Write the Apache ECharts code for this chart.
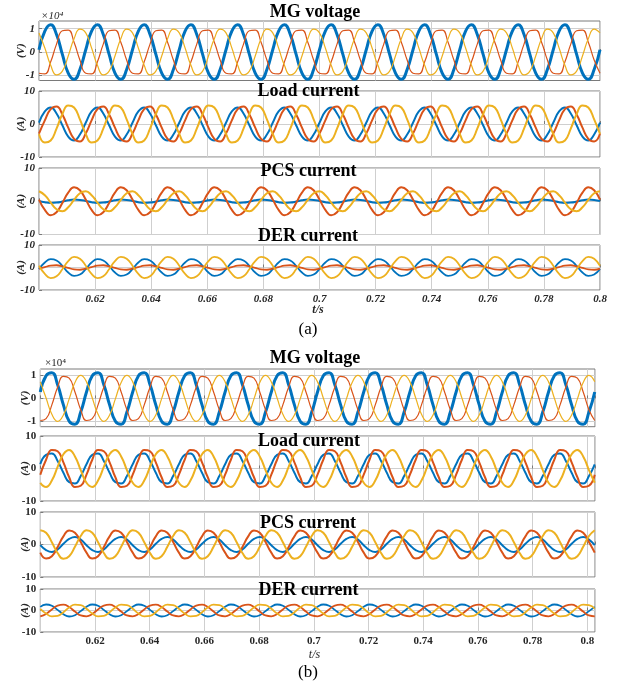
<!DOCTYPE html>
<html><head><meta charset="utf-8">
<script src="https://cdn.jsdelivr.net/npm/echarts@6/dist/echarts.min.js"></script>
<style>html,body{margin:0;padding:0;background:#fff}#c{width:617px;height:690px}</style>
</head><body><div id="c"></div><script>
// ---------- sampling grids (s) ----------
const T0 = 0.6;
const STEP_A = 1 / 480;      // figure (a): 60 Hz, 8 samples per cycle
const STEP_B = 0.0021115;    // figure (b): ~59.2 Hz, 8 samples per cycle
const N = 97;
const tA = [], tB = [];
for (let k = 0; k < N; k++) { tA.push(+(T0 + k * STEP_A).toFixed(6)); tB.push(+(T0 + k * STEP_B).toFixed(6)); }

// ---------- tick labels ----------
const xTickInterval = 0.02;
const mgTicks = [-1, 0, 1];
const curTicks = [-10, 0, 10];
const titles = ['MG voltage', 'Load current', 'PCS current', 'DER current'];

// ---------- (a) MG voltage (x1e4 V) ----------
const aMG_A = [
0.10,0.90,1.17,0.75,-0.10,-0.90,-1.17,-0.75,
0.10,0.90,1.17,0.75,-0.10,-0.90,-1.17,-0.75,
0.10,0.90,1.17,0.75,-0.10,-0.90,-1.17,-0.75,
0.10,0.90,1.17,0.75,-0.10,-0.90,-1.17,-0.75,
0.10,0.90,1.17,0.75,-0.10,-0.90,-1.17,-0.75,
0.10,0.90,1.17,0.75,-0.10,-0.90,-1.17,-0.75,
0.10,0.90,1.17,0.75,-0.10,-0.90,-1.17,-0.75,
0.10,0.90,1.17,0.75,-0.10,-0.90,-1.17,-0.75,
0.10,0.90,1.17,0.75,-0.10,-0.90,-1.17,-0.75,
0.10,0.90,1.17,0.75,-0.10,-0.90,-1.17,-0.75,
0.10,0.90,1.17,0.75,-0.10,-0.90,-1.17,-0.75,
0.10,0.90,1.17,0.75,-0.10,-0.90,-1.17,-0.75,
0.10];
const aMG_B = [
-0.91,-0.94,-0.42,0.34,0.91,0.94,0.42,-0.34,
-0.91,-0.94,-0.42,0.34,0.91,0.94,0.42,-0.34,
-0.91,-0.94,-0.42,0.34,0.91,0.94,0.42,-0.34,
-0.91,-0.94,-0.42,0.34,0.91,0.94,0.42,-0.34,
-0.91,-0.94,-0.42,0.34,0.91,0.94,0.42,-0.34,
-0.91,-0.94,-0.42,0.34,0.91,0.94,0.42,-0.34,
-0.91,-0.94,-0.42,0.34,0.91,0.94,0.42,-0.34,
-0.91,-0.94,-0.42,0.34,0.91,0.94,0.42,-0.34,
-0.91,-0.94,-0.42,0.34,0.91,0.94,0.42,-0.34,
-0.91,-0.94,-0.42,0.34,0.91,0.94,0.42,-0.34,
-0.91,-0.94,-0.42,0.34,0.91,0.94,0.42,-0.34,
-0.91,-0.94,-0.42,0.34,0.91,0.94,0.42,-0.34,
-0.91];
const aMG_C = [
0.82,0.17,-0.57,-0.98,-0.82,-0.17,0.57,0.98,
0.82,0.17,-0.57,-0.98,-0.82,-0.17,0.57,0.98,
0.82,0.17,-0.57,-0.98,-0.82,-0.17,0.57,0.98,
0.82,0.17,-0.57,-0.98,-0.82,-0.17,0.57,0.98,
0.82,0.17,-0.57,-0.98,-0.82,-0.17,0.57,0.98,
0.82,0.17,-0.57,-0.98,-0.82,-0.17,0.57,0.98,
0.82,0.17,-0.57,-0.98,-0.82,-0.17,0.57,0.98,
0.82,0.17,-0.57,-0.98,-0.82,-0.17,0.57,0.98,
0.82,0.17,-0.57,-0.98,-0.82,-0.17,0.57,0.98,
0.82,0.17,-0.57,-0.98,-0.82,-0.17,0.57,0.98,
0.82,0.17,-0.57,-0.98,-0.82,-0.17,0.57,0.98,
0.82,0.17,-0.57,-0.98,-0.82,-0.17,0.57,0.98,
0.82];

// ---------- (a) Load current (A) ----------
const aLoad_A = [
0.4,3.8,5.0,3.2,-0.4,-3.8,-5.0,-3.2,
0.4,3.8,5.0,3.2,-0.4,-3.8,-5.0,-3.2,
0.4,3.8,5.0,3.2,-0.4,-3.8,-5.0,-3.2,
0.4,3.8,5.0,3.2,-0.4,-3.8,-5.0,-3.2,
0.4,3.8,5.0,3.2,-0.4,-3.8,-5.0,-3.2,
0.4,3.8,5.0,3.2,-0.4,-3.8,-5.0,-3.2,
0.4,3.8,5.0,3.2,-0.4,-3.8,-5.0,-3.2,
0.4,3.8,5.0,3.2,-0.4,-3.8,-5.0,-3.2,
0.4,3.8,5.0,3.2,-0.4,-3.8,-5.0,-3.2,
0.4,3.8,5.0,3.2,-0.4,-3.8,-5.0,-3.2,
0.4,3.8,5.0,3.2,-0.4,-3.8,-5.0,-3.2,
0.4,3.8,5.0,3.2,-0.4,-3.8,-5.0,-3.2,
0.4];
const aLoad_B = [
-2.9,1.1,4.5,5.3,2.9,-1.1,-4.5,-5.3,
-2.9,1.1,4.5,5.3,2.9,-1.1,-4.5,-5.3,
-2.9,1.1,4.5,5.3,2.9,-1.1,-4.5,-5.3,
-2.9,1.1,4.5,5.3,2.9,-1.1,-4.5,-5.3,
-2.9,1.1,4.5,5.3,2.9,-1.1,-4.5,-5.3,
-2.9,1.1,4.5,5.3,2.9,-1.1,-4.5,-5.3,
-2.9,1.1,4.5,5.3,2.9,-1.1,-4.5,-5.3,
-2.9,1.1,4.5,5.3,2.9,-1.1,-4.5,-5.3,
-2.9,1.1,4.5,5.3,2.9,-1.1,-4.5,-5.3,
-2.9,1.1,4.5,5.3,2.9,-1.1,-4.5,-5.3,
-2.9,1.1,4.5,5.3,2.9,-1.1,-4.5,-5.3,
-2.9,1.1,4.5,5.3,2.9,-1.1,-4.5,-5.3,
-2.9];
const aLoad_C = [
-3.0,-5.6,-5.0,-1.4,3.0,5.6,5.0,1.4,
-3.0,-5.6,-5.0,-1.4,3.0,5.6,5.0,1.4,
-3.0,-5.6,-5.0,-1.4,3.0,5.6,5.0,1.4,
-3.0,-5.6,-5.0,-1.4,3.0,5.6,5.0,1.4,
-3.0,-5.6,-5.0,-1.4,3.0,5.6,5.0,1.4,
-3.0,-5.6,-5.0,-1.4,3.0,5.6,5.0,1.4,
-3.0,-5.6,-5.0,-1.4,3.0,5.6,5.0,1.4,
-3.0,-5.6,-5.0,-1.4,3.0,5.6,5.0,1.4,
-3.0,-5.6,-5.0,-1.4,3.0,5.6,5.0,1.4,
-3.0,-5.6,-5.0,-1.4,3.0,5.6,5.0,1.4,
-3.0,-5.6,-5.0,-1.4,3.0,5.6,5.0,1.4,
-3.0,-5.6,-5.0,-1.4,3.0,5.6,5.0,1.4,
-3.0];

// ---------- (a) PCS current (A) ----------
const aPCS_A = [
0.1,-0.3,-0.5,-0.4,-0.1,0.3,0.5,0.4,
0.1,-0.3,-0.5,-0.4,-0.1,0.3,0.5,0.4,
0.1,-0.3,-0.5,-0.4,-0.1,0.3,0.5,0.4,
0.1,-0.3,-0.5,-0.4,-0.1,0.3,0.5,0.4,
0.1,-0.3,-0.5,-0.4,-0.1,0.3,0.5,0.4,
0.1,-0.3,-0.5,-0.4,-0.1,0.3,0.5,0.4,
0.1,-0.3,-0.5,-0.4,-0.1,0.3,0.5,0.4,
0.1,-0.3,-0.5,-0.4,-0.1,0.3,0.5,0.4,
0.1,-0.3,-0.5,-0.4,-0.1,0.3,0.5,0.4,
0.1,-0.3,-0.5,-0.4,-0.1,0.3,0.5,0.4,
0.1,-0.3,-0.5,-0.4,-0.1,0.3,0.5,0.4,
0.1,-0.3,-0.5,-0.4,-0.1,0.3,0.5,0.4,
0.1];
const aPCS_B = [
0.5,-2.6,-4.2,-3.3,-0.5,2.6,4.2,3.3,
0.5,-2.6,-4.2,-3.3,-0.5,2.6,4.2,3.3,
0.5,-2.6,-4.2,-3.3,-0.5,2.6,4.2,3.3,
0.5,-2.6,-4.2,-3.3,-0.5,2.6,4.2,3.3,
0.5,-2.6,-4.2,-3.3,-0.5,2.6,4.2,3.3,
0.5,-2.6,-4.2,-3.3,-0.5,2.6,4.2,3.3,
0.5,-2.6,-4.2,-3.3,-0.5,2.6,4.2,3.3,
0.5,-2.6,-4.2,-3.3,-0.5,2.6,4.2,3.3,
0.5,-2.6,-4.2,-3.3,-0.5,2.6,4.2,3.3,
0.5,-2.6,-4.2,-3.3,-0.5,2.6,4.2,3.3,
0.5,-2.6,-4.2,-3.3,-0.5,2.6,4.2,3.3,
0.5,-2.6,-4.2,-3.3,-0.5,2.6,4.2,3.3,
0.5];
const aPCS_C = [
3.0,1.8,-0.4,-2.4,-3.0,-1.8,0.4,2.4,
3.0,1.8,-0.4,-2.4,-3.0,-1.8,0.4,2.4,
3.0,1.8,-0.4,-2.4,-3.0,-1.8,0.4,2.4,
3.0,1.8,-0.4,-2.4,-3.0,-1.8,0.4,2.4,
3.0,1.8,-0.4,-2.4,-3.0,-1.8,0.4,2.4,
3.0,1.8,-0.4,-2.4,-3.0,-1.8,0.4,2.4,
3.0,1.8,-0.4,-2.4,-3.0,-1.8,0.4,2.4,
3.0,1.8,-0.4,-2.4,-3.0,-1.8,0.4,2.4,
3.0,1.8,-0.4,-2.4,-3.0,-1.8,0.4,2.4,
3.0,1.8,-0.4,-2.4,-3.0,-1.8,0.4,2.4,
3.0,1.8,-0.4,-2.4,-3.0,-1.8,0.4,2.4,
3.0,1.8,-0.4,-2.4,-3.0,-1.8,0.4,2.4,
3.0];

// ---------- (a) DER current (A) ----------
const aDER_A = [
-0.7,2.2,3.7,3.1,0.7,-2.2,-3.7,-3.1,
-0.7,2.2,3.7,3.1,0.7,-2.2,-3.7,-3.1,
-0.7,2.2,3.7,3.1,0.7,-2.2,-3.7,-3.1,
-0.7,2.2,3.7,3.1,0.7,-2.2,-3.7,-3.1,
-0.7,2.2,3.7,3.1,0.7,-2.2,-3.7,-3.1,
-0.7,2.2,3.7,3.1,0.7,-2.2,-3.7,-3.1,
-0.7,2.2,3.7,3.1,0.7,-2.2,-3.7,-3.1,
-0.7,2.2,3.7,3.1,0.7,-2.2,-3.7,-3.1,
-0.7,2.2,3.7,3.1,0.7,-2.2,-3.7,-3.1,
-0.7,2.2,3.7,3.1,0.7,-2.2,-3.7,-3.1,
-0.7,2.2,3.7,3.1,0.7,-2.2,-3.7,-3.1,
-0.7,2.2,3.7,3.1,0.7,-2.2,-3.7,-3.1,
-0.7];
const aDER_B = [
-0.5,0.2,0.8,1.0,0.5,-0.2,-0.8,-1.0,
-0.5,0.2,0.8,1.0,0.5,-0.2,-0.8,-1.0,
-0.5,0.2,0.8,1.0,0.5,-0.2,-0.8,-1.0,
-0.5,0.2,0.8,1.0,0.5,-0.2,-0.8,-1.0,
-0.5,0.2,0.8,1.0,0.5,-0.2,-0.8,-1.0,
-0.5,0.2,0.8,1.0,0.5,-0.2,-0.8,-1.0,
-0.5,0.2,0.8,1.0,0.5,-0.2,-0.8,-1.0,
-0.5,0.2,0.8,1.0,0.5,-0.2,-0.8,-1.0,
-0.5,0.2,0.8,1.0,0.5,-0.2,-0.8,-1.0,
-0.5,0.2,0.8,1.0,0.5,-0.2,-0.8,-1.0,
-0.5,0.2,0.8,1.0,0.5,-0.2,-0.8,-1.0,
-0.5,0.2,0.8,1.0,0.5,-0.2,-0.8,-1.0,
-0.5];
const aDER_C = [
0.8,-2.8,-4.7,-3.9,-0.8,2.8,4.7,3.9,
0.8,-2.8,-4.7,-3.9,-0.8,2.8,4.7,3.9,
0.8,-2.8,-4.7,-3.9,-0.8,2.8,4.7,3.9,
0.8,-2.8,-4.7,-3.9,-0.8,2.8,4.7,3.9,
0.8,-2.8,-4.7,-3.9,-0.8,2.8,4.7,3.9,
0.8,-2.8,-4.7,-3.9,-0.8,2.8,4.7,3.9,
0.8,-2.8,-4.7,-3.9,-0.8,2.8,4.7,3.9,
0.8,-2.8,-4.7,-3.9,-0.8,2.8,4.7,3.9,
0.8,-2.8,-4.7,-3.9,-0.8,2.8,4.7,3.9,
0.8,-2.8,-4.7,-3.9,-0.8,2.8,4.7,3.9,
0.8,-2.8,-4.7,-3.9,-0.8,2.8,4.7,3.9,
0.8,-2.8,-4.7,-3.9,-0.8,2.8,4.7,3.9,
0.8];

// ---------- (b) MG voltage (x1e4 V) ----------
const bMG_A = [
0.28,0.99,1.12,0.59,-0.28,-0.99,-1.12,-0.59,
0.28,0.99,1.12,0.59,-0.28,-0.99,-1.12,-0.59,
0.28,0.99,1.12,0.59,-0.28,-0.99,-1.12,-0.59,
0.28,0.99,1.12,0.59,-0.28,-0.99,-1.12,-0.59,
0.28,0.99,1.12,0.59,-0.28,-0.99,-1.12,-0.59,
0.28,0.99,1.12,0.59,-0.28,-0.99,-1.12,-0.59,
0.28,0.99,1.12,0.59,-0.28,-0.99,-1.12,-0.59,
0.28,0.99,1.12,0.59,-0.28,-0.99,-1.12,-0.59,
0.28,0.99,1.12,0.59,-0.28,-0.99,-1.12,-0.59,
0.28,0.99,1.12,0.59,-0.28,-0.99,-1.12,-0.59,
0.28,0.99,1.12,0.59,-0.28,-0.99,-1.12,-0.59,
0.28,0.99,1.12,0.59,-0.28,-0.99,-1.12,-0.59,
0.28];
const bMG_B = [
-0.96,-0.88,-0.28,0.49,0.96,0.88,0.28,-0.49,
-0.96,-0.88,-0.28,0.49,0.96,0.88,0.28,-0.49,
-0.96,-0.88,-0.28,0.49,0.96,0.88,0.28,-0.49,
-0.96,-0.88,-0.28,0.49,0.96,0.88,0.28,-0.49,
-0.96,-0.88,-0.28,0.49,0.96,0.88,0.28,-0.49,
-0.96,-0.88,-0.28,0.49,0.96,0.88,0.28,-0.49,
-0.96,-0.88,-0.28,0.49,0.96,0.88,0.28,-0.49,
-0.96,-0.88,-0.28,0.49,0.96,0.88,0.28,-0.49,
-0.96,-0.88,-0.28,0.49,0.96,0.88,0.28,-0.49,
-0.96,-0.88,-0.28,0.49,0.96,0.88,0.28,-0.49,
-0.96,-0.88,-0.28,0.49,0.96,0.88,0.28,-0.49,
-0.96,-0.88,-0.28,0.49,0.96,0.88,0.28,-0.49,
-0.96];
const bMG_C = [
0.72,0.02,-0.69,-1.0,-0.72,-0.02,0.69,1.0,
0.72,0.02,-0.69,-1.0,-0.72,-0.02,0.69,1.0,
0.72,0.02,-0.69,-1.0,-0.72,-0.02,0.69,1.0,
0.72,0.02,-0.69,-1.0,-0.72,-0.02,0.69,1.0,
0.72,0.02,-0.69,-1.0,-0.72,-0.02,0.69,1.0,
0.72,0.02,-0.69,-1.0,-0.72,-0.02,0.69,1.0,
0.72,0.02,-0.69,-1.0,-0.72,-0.02,0.69,1.0,
0.72,0.02,-0.69,-1.0,-0.72,-0.02,0.69,1.0,
0.72,0.02,-0.69,-1.0,-0.72,-0.02,0.69,1.0,
0.72,0.02,-0.69,-1.0,-0.72,-0.02,0.69,1.0,
0.72,0.02,-0.69,-1.0,-0.72,-0.02,0.69,1.0,
0.72,0.02,-0.69,-1.0,-0.72,-0.02,0.69,1.0,
0.72];

// ---------- (b) Load current (A) ----------
const bLoad_A = [
1.3,4.2,4.6,2.3,-1.3,-4.2,-4.6,-2.3,
1.3,4.2,4.6,2.3,-1.3,-4.2,-4.6,-2.3,
1.3,4.2,4.6,2.3,-1.3,-4.2,-4.6,-2.3,
1.3,4.2,4.6,2.3,-1.3,-4.2,-4.6,-2.3,
1.3,4.2,4.6,2.3,-1.3,-4.2,-4.6,-2.3,
1.3,4.2,4.6,2.3,-1.3,-4.2,-4.6,-2.3,
1.3,4.2,4.6,2.3,-1.3,-4.2,-4.6,-2.3,
1.3,4.2,4.6,2.3,-1.3,-4.2,-4.6,-2.3,
1.3,4.2,4.6,2.3,-1.3,-4.2,-4.6,-2.3,
1.3,4.2,4.6,2.3,-1.3,-4.2,-4.6,-2.3,
1.3,4.2,4.6,2.3,-1.3,-4.2,-4.6,-2.3,
1.3,4.2,4.6,2.3,-1.3,-4.2,-4.6,-2.3,
1.3];
const bLoad_B = [
-1.9,2.7,5.7,5.3,1.9,-2.7,-5.7,-5.3,
-1.9,2.7,5.7,5.3,1.9,-2.7,-5.7,-5.3,
-1.9,2.7,5.7,5.3,1.9,-2.7,-5.7,-5.3,
-1.9,2.7,5.7,5.3,1.9,-2.7,-5.7,-5.3,
-1.9,2.7,5.7,5.3,1.9,-2.7,-5.7,-5.3,
-1.9,2.7,5.7,5.3,1.9,-2.7,-5.7,-5.3,
-1.9,2.7,5.7,5.3,1.9,-2.7,-5.7,-5.3,
-1.9,2.7,5.7,5.3,1.9,-2.7,-5.7,-5.3,
-1.9,2.7,5.7,5.3,1.9,-2.7,-5.7,-5.3,
-1.9,2.7,5.7,5.3,1.9,-2.7,-5.7,-5.3,
-1.9,2.7,5.7,5.3,1.9,-2.7,-5.7,-5.3,
-1.9,2.7,5.7,5.3,1.9,-2.7,-5.7,-5.3,
-1.9];
const bLoad_C = [
-4.4,-5.7,-3.7,0.5,4.4,5.7,3.7,-0.5,
-4.4,-5.7,-3.7,0.5,4.4,5.7,3.7,-0.5,
-4.4,-5.7,-3.7,0.5,4.4,5.7,3.7,-0.5,
-4.4,-5.7,-3.7,0.5,4.4,5.7,3.7,-0.5,
-4.4,-5.7,-3.7,0.5,4.4,5.7,3.7,-0.5,
-4.4,-5.7,-3.7,0.5,4.4,5.7,3.7,-0.5,
-4.4,-5.7,-3.7,0.5,4.4,5.7,3.7,-0.5,
-4.4,-5.7,-3.7,0.5,4.4,5.7,3.7,-0.5,
-4.4,-5.7,-3.7,0.5,4.4,5.7,3.7,-0.5,
-4.4,-5.7,-3.7,0.5,4.4,5.7,3.7,-0.5,
-4.4,-5.7,-3.7,0.5,4.4,5.7,3.7,-0.5,
-4.4,-5.7,-3.7,0.5,4.4,5.7,3.7,-0.5,
-4.4];

// ---------- (b) PCS current (A) ----------
const bPCS_A = [
-0.2,-1.7,-2.3,-1.5,0.2,1.7,2.3,1.5,
-0.2,-1.7,-2.3,-1.5,0.2,1.7,2.3,1.5,
-0.2,-1.7,-2.3,-1.5,0.2,1.7,2.3,1.5,
-0.2,-1.7,-2.3,-1.5,0.2,1.7,2.3,1.5,
-0.2,-1.7,-2.3,-1.5,0.2,1.7,2.3,1.5,
-0.2,-1.7,-2.3,-1.5,0.2,1.7,2.3,1.5,
-0.2,-1.7,-2.3,-1.5,0.2,1.7,2.3,1.5,
-0.2,-1.7,-2.3,-1.5,0.2,1.7,2.3,1.5,
-0.2,-1.7,-2.3,-1.5,0.2,1.7,2.3,1.5,
-0.2,-1.7,-2.3,-1.5,0.2,1.7,2.3,1.5,
-0.2,-1.7,-2.3,-1.5,0.2,1.7,2.3,1.5,
-0.2,-1.7,-2.3,-1.5,0.2,1.7,2.3,1.5,
-0.2];
const bPCS_B = [
-2.5,-4.3,-3.6,-0.8,2.5,4.3,3.6,0.8,
-2.5,-4.3,-3.6,-0.8,2.5,4.3,3.6,0.8,
-2.5,-4.3,-3.6,-0.8,2.5,4.3,3.6,0.8,
-2.5,-4.3,-3.6,-0.8,2.5,4.3,3.6,0.8,
-2.5,-4.3,-3.6,-0.8,2.5,4.3,3.6,0.8,
-2.5,-4.3,-3.6,-0.8,2.5,4.3,3.6,0.8,
-2.5,-4.3,-3.6,-0.8,2.5,4.3,3.6,0.8,
-2.5,-4.3,-3.6,-0.8,2.5,4.3,3.6,0.8,
-2.5,-4.3,-3.6,-0.8,2.5,4.3,3.6,0.8,
-2.5,-4.3,-3.6,-0.8,2.5,4.3,3.6,0.8,
-2.5,-4.3,-3.6,-0.8,2.5,4.3,3.6,0.8,
-2.5,-4.3,-3.6,-0.8,2.5,4.3,3.6,0.8,
-2.5];
const bPCS_C = [
4.4,3.6,0.7,-2.6,-4.4,-3.6,-0.7,2.6,
4.4,3.6,0.7,-2.6,-4.4,-3.6,-0.7,2.6,
4.4,3.6,0.7,-2.6,-4.4,-3.6,-0.7,2.6,
4.4,3.6,0.7,-2.6,-4.4,-3.6,-0.7,2.6,
4.4,3.6,0.7,-2.6,-4.4,-3.6,-0.7,2.6,
4.4,3.6,0.7,-2.6,-4.4,-3.6,-0.7,2.6,
4.4,3.6,0.7,-2.6,-4.4,-3.6,-0.7,2.6,
4.4,3.6,0.7,-2.6,-4.4,-3.6,-0.7,2.6,
4.4,3.6,0.7,-2.6,-4.4,-3.6,-0.7,2.6,
4.4,3.6,0.7,-2.6,-4.4,-3.6,-0.7,2.6,
4.4,3.6,0.7,-2.6,-4.4,-3.6,-0.7,2.6,
4.4,3.6,0.7,-2.6,-4.4,-3.6,-0.7,2.6,
4.4];

// ---------- (b) DER current (A) ----------
const bDER_A = [
1.7,2.8,2.2,0.3,-1.7,-2.8,-2.2,-0.3,
1.7,2.8,2.2,0.3,-1.7,-2.8,-2.2,-0.3,
1.7,2.8,2.2,0.3,-1.7,-2.8,-2.2,-0.3,
1.7,2.8,2.2,0.3,-1.7,-2.8,-2.2,-0.3,
1.7,2.8,2.2,0.3,-1.7,-2.8,-2.2,-0.3,
1.7,2.8,2.2,0.3,-1.7,-2.8,-2.2,-0.3,
1.7,2.8,2.2,0.3,-1.7,-2.8,-2.2,-0.3,
1.7,2.8,2.2,0.3,-1.7,-2.8,-2.2,-0.3,
1.7,2.8,2.2,0.3,-1.7,-2.8,-2.2,-0.3,
1.7,2.8,2.2,0.3,-1.7,-2.8,-2.2,-0.3,
1.7,2.8,2.2,0.3,-1.7,-2.8,-2.2,-0.3,
1.7,2.8,2.2,0.3,-1.7,-2.8,-2.2,-0.3,
1.7];
const bDER_B = [
-2.7,-1.6,0.5,2.3,2.7,1.6,-0.5,-2.3,
-2.7,-1.6,0.5,2.3,2.7,1.6,-0.5,-2.3,
-2.7,-1.6,0.5,2.3,2.7,1.6,-0.5,-2.3,
-2.7,-1.6,0.5,2.3,2.7,1.6,-0.5,-2.3,
-2.7,-1.6,0.5,2.3,2.7,1.6,-0.5,-2.3,
-2.7,-1.6,0.5,2.3,2.7,1.6,-0.5,-2.3,
-2.7,-1.6,0.5,2.3,2.7,1.6,-0.5,-2.3,
-2.7,-1.6,0.5,2.3,2.7,1.6,-0.5,-2.3,
-2.7,-1.6,0.5,2.3,2.7,1.6,-0.5,-2.3,
-2.7,-1.6,0.5,2.3,2.7,1.6,-0.5,-2.3,
-2.7,-1.6,0.5,2.3,2.7,1.6,-0.5,-2.3,
-2.7,-1.6,0.5,2.3,2.7,1.6,-0.5,-2.3,
-2.7];
const bDER_C = [
0.8,-1.4,-2.7,-2.5,-0.8,1.4,2.7,2.5,
0.8,-1.4,-2.7,-2.5,-0.8,1.4,2.7,2.5,
0.8,-1.4,-2.7,-2.5,-0.8,1.4,2.7,2.5,
0.8,-1.4,-2.7,-2.5,-0.8,1.4,2.7,2.5,
0.8,-1.4,-2.7,-2.5,-0.8,1.4,2.7,2.5,
0.8,-1.4,-2.7,-2.5,-0.8,1.4,2.7,2.5,
0.8,-1.4,-2.7,-2.5,-0.8,1.4,2.7,2.5,
0.8,-1.4,-2.7,-2.5,-0.8,1.4,2.7,2.5,
0.8,-1.4,-2.7,-2.5,-0.8,1.4,2.7,2.5,
0.8,-1.4,-2.7,-2.5,-0.8,1.4,2.7,2.5,
0.8,-1.4,-2.7,-2.5,-0.8,1.4,2.7,2.5,
0.8,-1.4,-2.7,-2.5,-0.8,1.4,2.7,2.5,
0.8];

// ---------- layout / styles ----------
const COLORS = ['#0072BD', '#D95319', '#EDB120'];
const SERIF = '"Liberation Serif", "DejaVu Serif", serif';
const panels = [
  { fig:'a', t:tA, left:39,   width:561,   top:21,  height:59.5, xmax:0.8,    ymin:-1.22, ymax:1.33, ticks:mgTicks,  unit:'(V)', data:[aMG_A,aMG_B,aMG_C],       lw:[3,1.2,1.2], title:titles[0], tx:315,   ty:12.7 },
  { fig:'a', t:tA, left:39,   width:561,   top:91,  height:66,   xmax:0.8,    ymin:-10,   ymax:10,   ticks:curTicks, unit:'(A)', data:[aLoad_A,aLoad_B,aLoad_C], lw:[2,2,2],     title:titles[1], tx:308.5, ty:91.7 },
  { fig:'a', t:tA, left:39,   width:561,   top:168, height:66.5, xmax:0.8,    ymin:-10,   ymax:10,   ticks:curTicks, unit:'(A)', data:[aPCS_A,aPCS_B,aPCS_C],    lw:[2,2,2],     title:titles[2], tx:308.5, ty:171.7 },
  { fig:'a', t:tA, left:39,   width:561,   top:245, height:45,   xmax:0.8,    ymin:-10,   ymax:10,   ticks:curTicks, unit:'(A)', data:[aDER_A,aDER_B,aDER_C],    lw:[1.8,1.8,1.8], title:titles[3], tx:308, ty:236.7, bottom:true },
  { fig:'b', t:tB, left:40.3, width:554.7, top:369, height:57.7, xmax:0.8028, ymin:-1.23, ymax:1.28, ticks:mgTicks,  unit:'(V)', data:[bMG_A,bMG_B,bMG_C],       lw:[3,1.2,1.2], title:titles[0], tx:315,   ty:358.3 },
  { fig:'b', t:tB, left:40.3, width:554.7, top:436, height:65,   xmax:0.8028, ymin:-10,   ymax:10,   ticks:curTicks, unit:'(A)', data:[bLoad_A,bLoad_B,bLoad_C], lw:[2,2,2],     title:titles[1], tx:309,   ty:441.7 },
  { fig:'b', t:tB, left:40.3, width:554.7, top:512, height:65,   xmax:0.8028, ymin:-10,   ymax:10,   ticks:curTicks, unit:'(A)', data:[bPCS_A,bPCS_B,bPCS_C],    lw:[2,2,2],     title:titles[2], tx:308,   ty:523.3 },
  { fig:'b', t:tB, left:40.3, width:554.7, top:589, height:43,   xmax:0.8028, ymin:-10,   ymax:10,   ticks:curTicks, unit:'(A)', data:[bDER_A,bDER_B,bDER_C],    lw:[1.8,1.8,1.8], title:titles[3], tx:308.5, ty:590, bottom:true }
];

const grid = [], xAxis = [], yAxis = [], series = [], graphic = [];
panels.forEach((p, i) => {
  const italic = p.fig === 'a' ? 'italic' : 'normal';
  grid.push({ left:p.left, top:p.top, width:p.width, height:p.height, show:true, borderColor:'#7a7a7a', borderWidth:1, backgroundColor:'transparent', containLabel:false, outerBoundsMode:'none' });
  xAxis.push({
    type:'value', gridIndex:i, min:T0, max:p.xmax, interval:xTickInterval,
    axisLine:{ show:false }, axisTick:{ show:true, inside:true, length:3, lineStyle:{ color:'#7a7a7a' } },
    splitLine:{ show:true, lineStyle:{ color:'#cfcfcf', width:1 } },
    axisLabel:{ show:!!p.bottom, showMinLabel:false, showMaxLabel:p.fig === 'a', margin:4,
      fontFamily:SERIF, fontSize:11, fontWeight:'bold', fontStyle:italic, color:'#262626' }
  });
  const isMG = p.ticks === mgTicks;
  const ya = {
    type:'value', gridIndex:i, min:p.ymin, max:p.ymax,
    name:p.unit, nameLocation:'middle', nameRotate:90, nameGap:p.fig === 'a' ? 12 : 10, nameMoveOverlap:false,
    nameTextStyle:{ fontFamily:SERIF, fontSize:11, fontWeight:'bold', fontStyle:'italic', color:'#262626' },
    axisLine:{ show:false }, axisTick:{ show:true, inside:true, length:3, lineStyle:{ color:'#7a7a7a' } },
    splitLine:{ show:true, lineStyle:{ color:'#cfcfcf', width:1 } },
    axisLabel:{ margin:4, fontFamily:SERIF, fontSize:11, fontWeight:'bold', fontStyle:italic, color:'#262626' }
  };
  if (isMG) {
    ya.axisLabel.customValues = mgTicks;
    ya.axisTick.customValues = mgTicks;
  } else {
    ya.interval = 10;
  }
  yAxis.push(ya);
  p.data.forEach((arr, j) => {
    series.push({
      type:'line', xAxisIndex:i, yAxisIndex:i, showSymbol:false, smooth:0.5, clip:true, silent:true,
      lineStyle:{ color:COLORS[j], width:p.lw[j] }, itemStyle:{ color:COLORS[j] },
      data:p.t.map((x, k) => [x, arr[k]])
    });
  });
  graphic.push({ type:'text', x:p.tx, y:p.ty, z:100,
    style:{ text:p.title, font:'bold 18px ' + SERIF, fill:'#000', textAlign:'center', textVerticalAlign:'middle' } });
});

graphic.push({ type:'text', x:41, y:15.7, z:100, style:{ text:'×10⁴', font:'italic 11px ' + SERIF, fill:'#262626', textAlign:'left', textVerticalAlign:'middle' } });
graphic.push({ type:'text', x:45, y:363, z:100, style:{ text:'×10⁴', font:'11px ' + SERIF, fill:'#262626', textAlign:'left', textVerticalAlign:'middle' } });
graphic.push({ type:'text', x:318, y:310, z:100, style:{ text:'t/s', font:'italic bold 12px ' + SERIF, fill:'#262626', textAlign:'center', textVerticalAlign:'middle' } });
graphic.push({ type:'text', x:314.5, y:655, z:100, style:{ text:'t/s', font:'italic 12px ' + SERIF, fill:'#262626', textAlign:'center', textVerticalAlign:'middle' } });
graphic.push({ type:'text', x:308, y:330, z:100, style:{ text:'(a)', font:'17px ' + SERIF, fill:'#000', textAlign:'center', textVerticalAlign:'middle' } });
graphic.push({ type:'text', x:308, y:673, z:100, style:{ text:'(b)', font:'17px ' + SERIF, fill:'#000', textAlign:'center', textVerticalAlign:'middle' } });

const chart = echarts.init(document.getElementById('c'), null, { renderer:'canvas' });
chart.setOption({ animation:false, backgroundColor:'#fff', grid, xAxis, yAxis, series, graphic });
</script></body></html>
